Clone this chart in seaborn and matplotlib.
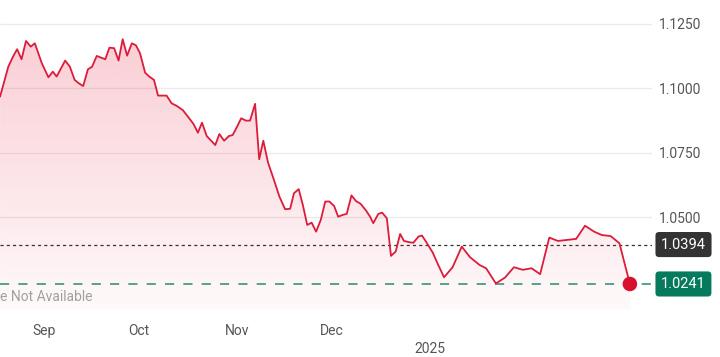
import numpy as np
import pandas as pd
import matplotlib
matplotlib.use("Agg")
import matplotlib.pyplot as plt
import seaborn as sns
from matplotlib.colors import to_rgb

# ---- data (days since 1 Sep 2024, rate) ----
days = [-13.9, -11.3, -9.7, -8.5, -7.1, -5.7, -4.2, -2.9, -0.7, 1.4, 2.8, 4.0, 6.7, 8.2,
        9.7, 11.0, 12.4, 13.9, 15.2, 16.7, 19.4, 20.7, 22.2, 23.6, 24.9, 26.3, 27.8, 29.1,
        30.4, 32.0, 33.3, 34.8, 36.1, 38.8, 40.4, 42.0, 43.9, 45.7, 47.3, 48.7, 50.0, 51.5,
        52.9, 54.2, 55.5, 57.0, 58.5, 59.7, 61.2, 62.4, 63.9, 65.2, 66.8, 68.1, 69.4, 70.9,
        72.6, 74.5, 76.3, 77.9, 79.1, 80.6, 81.9, 83.3, 84.7, 86.1, 87.6, 89.0, 90.3, 91.8,
        93.1, 94.5, 95.8, 97.3, 98.7, 100.2, 101.9, 103.2, 104.2, 105.8, 107.0, 108.5, 109.8,
        111.3, 112.7, 113.9, 115.6, 116.9, 118.5, 119.6, 120.9, 123.0, 124.9, 126.6, 129.3,
        132.2, 134.8, 137.8, 139.9, 143.0, 145.9, 148.7, 151.5, 154.3, 157.0, 159.9, 162.6,
        165.6, 168.4, 171.2, 174.1, 176.5, 179.3, 182.1, 185.4]
rates = [1.0968, 1.1084, 1.1126, 1.1152, 1.1113, 1.1184, 1.1162, 1.1175, 1.1098, 1.1043,
         1.1065, 1.1046, 1.1108, 1.1084, 1.1033, 1.1020, 1.1009, 1.1074, 1.1084, 1.1126,
         1.1113, 1.1158, 1.1156, 1.1108, 1.1191, 1.1127, 1.1175, 1.1167, 1.1136, 1.1061,
         1.1046, 1.1033, 1.0972, 1.0972, 1.0942, 1.0932, 1.0916, 1.0888, 1.0862, 1.0828,
         1.0867, 1.0815, 1.0797, 1.0780, 1.0823, 1.0797, 1.0815, 1.0819, 1.0854, 1.0884,
         1.0875, 1.0875, 1.0940, 1.0725, 1.0797, 1.0712, 1.0651, 1.0580, 1.0531, 1.0533,
         1.0593, 1.0609, 1.0548, 1.0470, 1.0479, 1.0444, 1.0490, 1.0561, 1.0561, 1.0544,
         1.0502, 1.0509, 1.0513, 1.0585, 1.0563, 1.0552, 1.0526, 1.0502, 1.0477, 1.0513,
         1.0518, 1.0496, 1.0350, 1.0367, 1.0435, 1.0408, 1.0403, 1.0401, 1.0425, 1.0429,
         1.0405, 1.0363, 1.0311, 1.0267, 1.0306, 1.0386, 1.0345, 1.0315, 1.0302, 1.0243,
         1.0266, 1.0306, 1.0296, 1.0302, 1.0279, 1.0421, 1.0408, 1.0412, 1.0416, 1.0467,
         1.0444, 1.0431, 1.0427, 1.0399, 1.0241]
prev_close = 1.0394
y_ticks = [1.0500, 1.0750, 1.1000, 1.1250]
month_pos = [0, 30, 61, 91]
month_labels = ["Sep", "Oct", "Nov", "Dec"]
year_pos = [122]
year_labels = ["2025"]
note_text = "e Not Available"

df = pd.DataFrame({"day": days, "rate": rates})

sns.set_style("white")
plt.rcParams["font.family"] = ["Roboto", "DejaVu Sans"]

W, H = 720, 357
fig = plt.figure(figsize=(W / 100, H / 100), dpi=100)
ax = fig.add_axes([0, (H - 310) / H, 652 / W, 310 / H])

xmin, xmax = -13.92, 192.4
ymin, ymax = 1.0140, 1.1343
ax.set_xlim(xmin, xmax)
ax.set_ylim(ymin, ymax)

line_col = "#dc1c3a"

# gradient fill under the line
poly = ax.fill_between(df["day"], df["rate"], ymin, color="none", lw=0)
rgb = np.array(to_rgb("#e8344f"))
n = 256
alpha = np.linspace(0.03, 0.24, n)[:, None]
grad = np.ones((n, 1, 4))
grad[:, :, :3] = rgb
grad[:, :, 3] = alpha
im = ax.imshow(grad, extent=[xmin, xmax, ymin, 1.1200], origin="lower",
               aspect="auto", zorder=1, interpolation="bilinear")
path = poly.get_paths()[0]
im.set_clip_path(path, transform=ax.transData)
ax.set_xlim(xmin, xmax)
ax.set_ylim(ymin, ymax)

# grid lines
for v in y_ticks:
    ax.axhline(v, color="#ebebeb", lw=1, zorder=0.5)

sns.lineplot(data=df, x="day", y="rate", ax=ax, color=line_col, lw=1.3, zorder=3)

# reference lines
ax.axhline(prev_close, color="#333333", lw=0.9, ls=(0, (2.5, 2.5)), zorder=2)
ax.axhline(rates[-1], color="#2a8a6e", lw=1.1, ls=(0, (6, 6)), zorder=2)

sns.scatterplot(x=[days[-1]], y=[rates[-1]], ax=ax, color="#d7102f", s=110,
                edgecolor="none", zorder=5, legend=False)

# axes styling
for s in ax.spines.values():
    s.set_visible(False)
ax.set_xlabel("")
ax.set_ylabel("")
ax.yaxis.tick_right()
ax.set_yticks(y_ticks)
ax.set_yticklabels([f"{v:.4f}" for v in y_ticks])
ax.tick_params(axis="y", length=0, pad=5, labelsize=10, labelcolor="#555555")
ax.set_xticks(month_pos)
ax.set_xticklabels(month_labels)
ax.set_xticks(year_pos, minor=True)
ax.set_xticklabels(year_labels, minor=True)
ax.tick_params(axis="x", which="major", length=0, pad=10, labelsize=10, labelcolor="#555555")
ax.tick_params(axis="x", which="minor", length=0, pad=23, labelsize=10, labelcolor="#555555")

# value tags
tr = ax.get_yaxis_transform()
ax.text(661 / 652, prev_close, f"{prev_close:.4f}", transform=tr, ha="left", va="center",
        fontsize=10.5, color="white", clip_on=False,
        bbox=dict(boxstyle="round,pad=0.38,rounding_size=0.25", fc="#333333", ec="none"))
ax.text(661 / 652, rates[-1], f"{rates[-1]:.4f}", transform=tr, ha="left", va="center",
        fontsize=10.5, color="white", clip_on=False,
        bbox=dict(boxstyle="round,pad=0.38,rounding_size=0.25", fc="#067a5c", ec="none"))

fig.text(0, 1 - 297 / H, note_text, ha="left", va="center", fontsize=10, color="#a0a0a0")

fig.savefig("out.png", dpi=100)
